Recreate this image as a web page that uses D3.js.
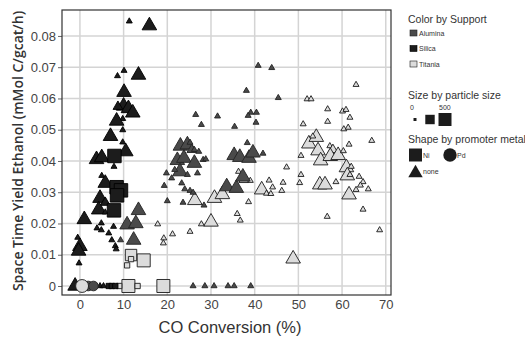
<!DOCTYPE html>
<html>
<head>
<meta charset="utf-8">
<script src="https://cdn.jsdelivr.net/npm/d3@7"></script>
<style>
  body { margin: 0; background: #fff; }
  svg { display: block; font-family: "Liberation Sans", Arial, sans-serif; }
</style>
</head>
<body>
<svg id="chart" width="525" height="339"></svg>
<script>
// tick labels and categories
const xTicks = [0, 10, 20, 30, 40, 50, 60, 70];
const yTicks = [0, 0.01, 0.02, 0.03, 0.04, 0.05, 0.06, 0.07, 0.08];
const supports = ['Alumina', 'Silica', 'Titania'];
const promoters = ['Ni', 'Pd', 'none'];
const sizeLegend = [0, 250, 500];

// [CO conversion %, STY ethanol, particle size]
const titaniaNone = [
  [17.8, 0.0198, 20], [21.2, 0.0166, 20], [19.2, 0.0153, 20], [19.1, 0.0137, 20],
  [26.3, 0.0274, 260], [30.8, 0.0281, 260], [32.6, 0.0293, 260], [30.0, 0.0205, 260],
  [27.8, 0.0198, 20], [25.2, 0.0174, 20], [36.0, 0.0231, 20], [36.7, 0.0210, 20],
  [38.6, 0.0269, 20], [36.3, 0.0366, 20], [39.0, 0.0337, 20], [37.5, 0.0340, 100],
  [41.6, 0.0308, 260], [42.7, 0.0296, 20], [43.3, 0.0338, 20], [43.7, 0.0295, 20],
  [44.1, 0.0316, 20], [46.5, 0.0331, 20], [46.2, 0.0305, 20], [47.3, 0.0380, 20],
  [48.8, 0.0087, 260],
  [63.2, 0.0644, 20], [52.0, 0.0598, 20], [52.9, 0.0598, 20], [56.7, 0.0566, 20],
  [60.1, 0.0559, 20], [60.9, 0.0564, 20], [61.8, 0.0539, 20], [51.1, 0.0518, 20],
  [56.7, 0.0526, 20], [60.4, 0.0502, 20], [61.4, 0.0507, 20], [66.8, 0.0465, 20],
  [52.4, 0.0455, 260], [54.1, 0.0476, 260], [53.3, 0.0479, 20], [54.5, 0.0433, 260],
  [55.1, 0.0401, 260], [57.2, 0.0448, 20], [57.9, 0.0436, 100], [57.3, 0.0415, 260],
  [59.1, 0.0418, 260], [60.3, 0.0432, 20], [61.6, 0.0453, 20], [50.6, 0.0417, 20],
  [61.0, 0.0379, 260], [62.1, 0.0382, 20], [61.2, 0.0353, 260], [61.8, 0.0356, 20],
  [63.9, 0.0350, 20], [64.8, 0.0333, 20], [64.2, 0.0322, 20], [63.2, 0.0308, 20],
  [66.0, 0.0310, 20], [54.9, 0.0324, 260], [56.1, 0.0324, 260], [58.6, 0.0333, 20],
  [61.6, 0.0292, 260], [64.8, 0.0245, 20], [56.6, 0.0222, 20], [68.6, 0.0179, 20],
  [50.6, 0.0356, 20], [50.3, 0.0330, 20]
];
const titaniaNi = [
  [11.7, 0.0099, 380], [14.6, 0.0082, 500], [11.7, 0.0086, 60], [10.8, 0.0066, 60],
  [11.1, 0, 500], [9.0, 0, 60], [13.2, 0, 60], [19.1, 0, 500]
];
const titaniaPd = [[0.5, 0, 380]];

const aluminaNone = [
  [13.4, 0.0242, 260], [10.8, 0.0196, 260], [12.8, 0.0200, 260], [12.3, 0.0147, 260],
  [9.3, 0.0147, 20], [19.8, 0.0361, 20], [19.3, 0.0321, 20], [20.0, 0.0272, 20],
  [26.5, 0.0548, 20], [27.8, 0.0516, 20], [31.5, 0.0543, 20], [35.4, 0.0510, 20],
  [38.1, 0.0625, 20], [40.8, 0.0705, 20], [43.9, 0.0698, 20], [45.4, 0.0602, 20],
  [39.1, 0.0555, 20], [40.4, 0.0555, 20], [38.5, 0.0545, 20], [40.3, 0.0523, 20],
  [38.3, 0.0458, 20], [41.9, 0.0424, 20],
  [35.3, 0.0418, 260], [36.6, 0.0412, 260], [38.7, 0.0409, 260], [39.6, 0.0426, 260],
  [23.0, 0.0448, 260], [24.6, 0.0452, 260], [22.3, 0.0402, 260], [23.8, 0.0409, 260],
  [26.2, 0.0393, 260], [22.9, 0.0366, 260], [25.6, 0.0436, 100],
  [25.2, 0.0459, 20], [26.2, 0.0436, 20], [27.2, 0.0430, 20], [28.2, 0.0404, 20],
  [28.8, 0.0406, 20], [26.9, 0.0361, 20], [24.6, 0.0356, 20], [21.7, 0.0372, 20],
  [21.0, 0.0345, 20], [23.3, 0.0329, 20], [24.0, 0.0310, 20], [25.2, 0.0305, 20],
  [25.9, 0.0299, 20], [23.6, 0.0267, 20], [28.4, 0.0258, 20],
  [33.6, 0.0318, 260], [35.8, 0.0313, 260], [37.3, 0.0349, 260],
  [25.9, 0, 20], [28.6, 0, 20], [30.7, 0, 20], [33.9, 0, 20], [35.3, 0, 20], [39.1, 0, 20]
];
const aluminaPd = [[1.9, 0, 200], [3.1, 0, 200]];

const silicaNone = [
  [11.3, 0.0847, 20], [15.9, 0.0833, 260], [10.1, 0.0689, 20], [8.6, 0.0672, 20],
  [13.4, 0.0675, 260], [10.1, 0.0620, 260], [10.0, 0.0576, 260], [11.1, 0.0568, 260],
  [12.1, 0.0554, 260], [8.7, 0.0574, 100], [9.8, 0.0535, 20], [8.4, 0.0528, 260],
  [9.8, 0.0499, 20], [7.0, 0.0479, 260], [9.8, 0.0460, 20], [10.5, 0.0430, 260],
  [3.8, 0.0405, 260], [5.0, 0.0411, 260], [7.8, 0.0382, 20], [5.0, 0.0353, 20],
  [5.8, 0.0329, 260], [10.0, 0.0297, 20], [4.6, 0.0281, 260], [5.8, 0.0267, 100],
  [4.3, 0.0244, 260], [5.8, 0.0236, 20], [1.0, 0.0213, 260], [4.9, 0.0201, 20],
  [3.9, 0.0185, 20], [4.9, 0.0179, 20], [7.7, 0.0190, 20], [6.6, 0.0169, 20],
  [7.3, 0.0147, 20], [8.1, 0.0128, 20], [8.3, 0.0118, 20], [-0.5, 0.0155, 20],
  [0.0, 0.0127, 260], [-0.3, 0.0112, 260], [-0.2, 0.0073, 20],
  [-1.1, 0, 260], [4.6, 0, 20], [5.4, 0, 20]
];
const silicaNi = [
  [7.9, 0.0416, 540], [8.4, 0.0316, 540], [9.4, 0.0306, 540], [8.5, 0.0290, 540],
  [7.8, 0.0242, 540], [6.6, 0, 60], [7.3, 0, 60], [8.1, 0, 60]
];

const fills = { Alumina: '#4a4a4a', Silica: '#1c1c1c', Titania: '#dcdcdc' };
const strokes = { Alumina: '#222', Silica: '#000', Titania: '#1a1a1a' };
const shapes = { Ni: d3.symbolSquare, Pd: d3.symbolCircle, none: d3.symbolTriangle };

const series = [
  { support: 'Titania', promoter: 'none', points: titaniaNone },
  { support: 'Titania', promoter: 'Ni', points: titaniaNi },
  { support: 'Alumina', promoter: 'none', points: aluminaNone },
  { support: 'Silica', promoter: 'none', points: silicaNone },
  { support: 'Silica', promoter: 'Ni', points: silicaNi },
  { support: 'Alumina', promoter: 'Pd', points: aluminaPd },
  { support: 'Titania', promoter: 'Pd', points: titaniaPd }
];

const svg = d3.select('#chart');
const plotLeft = 62, plotRight = 391, plotTop = 10, plotBottom = 295;

const x = d3.scaleLinear().domain([-4.1, 71.2]).range([plotLeft, plotRight]);
const y = d3.scaleLinear().domain([-0.00288, 0.0883]).range([plotBottom, plotTop]);
const area = d3.scaleLinear().domain([0, 500]).range([9, 169]);

// grid
svg.append('g').selectAll('line').data(xTicks).join('line')
  .attr('x1', d => x(d)).attr('x2', d => x(d))
  .attr('y1', plotTop).attr('y2', plotBottom)
  .attr('stroke', '#d4d4d4').attr('stroke-width', 1.5);
svg.append('g').selectAll('line').data(yTicks).join('line')
  .attr('x1', plotLeft).attr('x2', plotRight)
  .attr('y1', d => y(d)).attr('y2', d => y(d))
  .attr('stroke', '#d4d4d4').attr('stroke-width', 1.5);

// axes
const yAxis = svg.append('g')
  .attr('transform', `translate(${plotLeft},0)`)
  .call(d3.axisLeft(y).tickValues(yTicks).tickSize(4).tickPadding(2)
    .tickFormat(d => d === 0 ? '0' : d3.format('.2f')(d)));
yAxis.select('.domain').remove();
yAxis.selectAll('line').attr('stroke', '#666');
yAxis.selectAll('text').attr('font-size', 13).attr('fill', '#444')
  .attr('font-family', '"Liberation Sans", Arial, sans-serif');

const xAxis = svg.append('g')
  .attr('transform', `translate(0,${plotBottom})`)
  .call(d3.axisBottom(x).tickValues(xTicks).tickSize(0).tickPadding(5));
xAxis.select('.domain').remove();
xAxis.selectAll('text').attr('font-size', 13).attr('fill', '#444')
  .attr('font-family', '"Liberation Sans", Arial, sans-serif');

// frame
svg.append('rect')
  .attr('x', plotLeft).attr('y', plotTop)
  .attr('width', plotRight - plotLeft).attr('height', plotBottom - plotTop)
  .attr('fill', 'none').attr('stroke', '#333').attr('stroke-width', 1.2);

// marks
series.forEach(s => {
  svg.append('g').selectAll('path').data(s.points).join('path')
    .attr('transform', d => `translate(${x(d[0])},${y(d[1])})`)
    .attr('d', d => d3.symbol().type(shapes[s.promoter]).size(area(d[2]))())
    .attr('fill', fills[s.support])
    .attr('stroke', strokes[s.support])
    .attr('stroke-width', 0.9);
});

// axis titles
svg.append('text')
  .attr('transform', 'translate(23,151) rotate(-90)')
  .attr('text-anchor', 'middle')
  .attr('font-family', '"Open Sans", sans-serif')
  .attr('font-weight', 600)
  .attr('font-size', 14).attr('fill', '#333')
  .text('Space Time Yield Ethanol (mMol C/gcat/h)');

svg.append('text')
  .attr('x', 230).attr('y', 333)
  .attr('text-anchor', 'middle')
  .attr('font-size', 16.5).attr('fill', '#333')
  .text('CO Conversion (%)');

// legend
const lg = svg.append('g').attr('fill', '#333');
lg.append('text').attr('x', 408).attr('y', 23).attr('font-size', 10.5).text('Color by Support');
supports.forEach((s, i) => {
  const yy = 30 + i * 15.5;
  lg.append('rect').attr('x', 410).attr('y', yy).attr('width', 7).attr('height', 6)
    .attr('fill', fills[s]).attr('stroke', strokes[s]).attr('stroke-width', 0.6);
  lg.append('text').attr('x', 419).attr('y', yy + 5.5).attr('font-size', 7).text(s);
});

lg.append('text').attr('x', 408).attr('y', 99).attr('font-size', 10.5).text('Size by particle size');
lg.append('text').attr('x', 410).attr('y', 110).attr('font-size', 7).text('0');
lg.append('text').attr('x', 439).attr('y', 110).attr('font-size', 7).text('500');
const sizeX = [415, 430, 445];
sizeLegend.forEach((p, i) => {
  lg.append('path')
    .attr('transform', `translate(${sizeX[i]},119.5)`)
    .attr('d', d3.symbol().type(d3.symbolSquare).size(area(p))())
    .attr('fill', '#1c1c1c');
});

lg.append('text').attr('x', 408).attr('y', 143).attr('font-size', 10.5).text('Shape by promoter metal');
const shapePos = [[415.5, 155], [450, 155], [415.5, 173]];
const labelPos = [[423, 158], [457, 158], [423, 174]];
promoters.forEach((p, i) => {
  lg.append('path')
    .attr('transform', `translate(${shapePos[i][0]},${shapePos[i][1]})`)
    .attr('d', d3.symbol().type(shapes[p]).size(p === 'Pd' ? 140 : (p === 'Ni' ? 169 : 90))())
    .attr('fill', '#1c1c1c');
  lg.append('text').attr('x', labelPos[i][0]).attr('y', labelPos[i][1])
    .attr('font-size', 7).text(p);
});
</script>
</body>
</html>
